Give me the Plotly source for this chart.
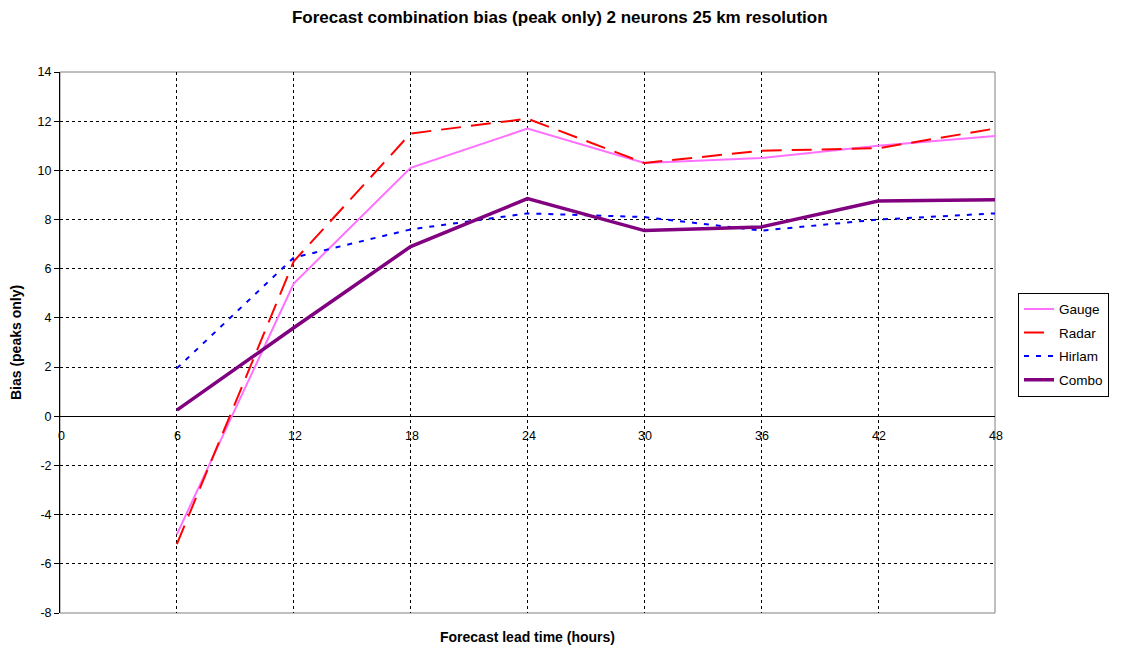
import plotly.graph_objects as go

lead_time = [6, 12, 18, 24, 30, 36, 42, 48]
gauge = [-4.8, 5.4, 10.1, 11.7, 10.3, 10.5, 11.0, 11.4]
radar = [-5.2, 6.3, 11.5, 12.1, 10.3, 10.8, 10.9, 11.7]
hirlam = [1.95, 6.45, 7.6, 8.25, 8.1, 7.55, 8.0, 8.25]
combo = [0.25, 3.6, 6.9, 8.85, 7.55, 7.7, 8.75, 8.8]
x_ticks = [0, 6, 12, 18, 24, 30, 36, 42, 48]
y_ticks = [-8, -6, -4, -2, 0, 2, 4, 6, 8, 10, 12, 14]

FONT = "Arial, Liberation Sans, sans-serif"

fig = go.Figure()
fig.add_trace(go.Scatter(x=lead_time, y=gauge, name="Gauge", mode="lines", legendgroup="g",
                         line=dict(color="#FF70FF", width=2)))
fig.add_trace(go.Scatter(x=lead_time, y=radar, name="Radar", mode="lines", legendgroup="r",
                         line=dict(color="#FF0000", width=2, dash="20px,10px")))
fig.add_trace(go.Scatter(x=lead_time, y=hirlam, name="Hirlam", mode="lines", legendgroup="h",
                         line=dict(color="#0000FF", width=2, dash="5px,7px")))
fig.add_trace(go.Scatter(x=lead_time, y=combo, name="Combo", mode="lines", legendgroup="c",
                         line=dict(color="#800080", width=3.5)))

# x tick labels sit just under the zero line
for t in x_ticks:
    fig.add_annotation(x=t, y=0, xref="x", yref="y", text=str(t), showarrow=False,
                       yanchor="top", yshift=-11, xshift=1,
                       font=dict(family=FONT, size=12.5, color="#000"))

fig.update_layout(
    width=1117, height=642,
    margin=dict(l=52, r=130, t=64, b=37),
    paper_bgcolor="white", plot_bgcolor="white",
    title=dict(text="<b>Forecast combination bias (peak only) 2 neurons 25 km resolution</b>",
               x=0.494, xref="container", y=0.986, yanchor="middle",
               font=dict(family=FONT, size=17, color="#000")),
    font=dict(family=FONT, size=12, color="#000"),
    legend=dict(x=1.0246, y=0.592, xanchor="left", yanchor="top",
                bordercolor="#000", borderwidth=1, bgcolor="white",
                font=dict(family=FONT, size=13.5, color="#000"),
                tracegroupgap=3),
    xaxis=dict(range=[0, 48], tickvals=x_ticks, showticklabels=False, automargin=False,
               showgrid=True, gridcolor="#000", griddash="3px,3px", gridwidth=1,
               zeroline=False, showline=False, ticks="",
               title=dict(text="<b>Forecast lead time (hours)</b>", standoff=19,
                          font=dict(family=FONT, size=14, color="#000"))),
    yaxis=dict(range=[-8, 14], tickvals=y_ticks, ticktext=[str(v) for v in y_ticks],
               automargin=False,
               showgrid=True, gridcolor="#000", griddash="3px,3px", gridwidth=1,
               zeroline=True, zerolinecolor="#000", zerolinewidth=1,
               showline=True, linecolor="#000", linewidth=1,
               ticks="outside", ticklen=5, tickcolor="#000",
               tickfont=dict(family=FONT, size=12.5, color="#000"),
               title=dict(text="<b>Bias (peaks only)</b>", standoff=14,
                          font=dict(family=FONT, size=14, color="#000"))),
)

fig.add_shape(type="rect", xref="paper", yref="paper", x0=0, y0=0, x1=1, y1=1,
              line=dict(color="#808080", width=1), layer="below")

fig.write_html("out.html")
